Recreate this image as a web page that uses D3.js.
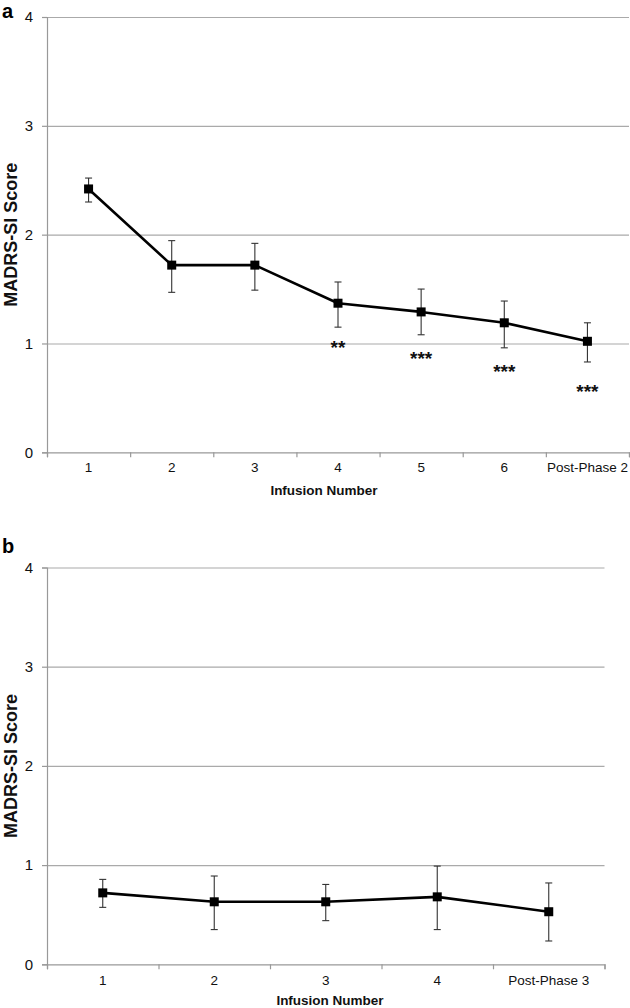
<!DOCTYPE html>
<html>
<head>
<meta charset="utf-8">
<script src="https://cdn.jsdelivr.net/npm/d3@7"></script>
<style>
  html, body { margin: 0; padding: 0; background: #fff; }
  svg { display: block; font-family: "Liberation Sans", Arial, sans-serif; }
</style>
</head>
<body>
<svg id="chart" width="630" height="1008"></svg>
<script>
// ---------- Data ----------
const yTicks = [0, 1, 2, 3, 4];

// Panel a
const categoriesA = ["1", "2", "3", "4", "5", "6", "Post-Phase 2"];
const meansA      = [2.42, 1.72, 1.72, 1.37, 1.29, 1.19, 1.02];
const upperA      = [2.52, 1.945, 1.92, 1.565, 1.50, 1.39, 1.19];
const lowerA      = [2.30, 1.47, 1.49, 1.15, 1.08, 0.96, 0.83];
const starsA      = ["", "", "", "**", "***", "***", "***"];
const starValueA  = [null, null, null, 0.90, 0.80, 0.68, 0.50];

// Panel b
const categoriesB = ["1", "2", "3", "4", "Post-Phase 3"];
const meansB      = [0.72, 0.63, 0.63, 0.68, 0.53];
const upperB      = [0.856, 0.89, 0.805, 0.99, 0.82];
const lowerB      = [0.574, 0.35, 0.44, 0.35, 0.235];

const yTitle = "MADRS-SI Score";
const xTitle = "Infusion Number";

// ---------- Drawing ----------
const svg = d3.select("#chart");

function panel(cfg) {
  const g = svg.append("g");
  const x = d3.scaleBand().domain(cfg.categories).range([cfg.left, cfg.right]).padding(0);
  const y = d3.scaleLinear().domain([0, 4]).range([cfg.bottom, cfg.top]);

  // gridlines
  const grid = g.append("g")
    .attr("transform", `translate(${cfg.left},0)`)
    .call(d3.axisLeft(y).tickValues(yTicks.filter(v => v > 0)).tickSize(-(cfg.right - cfg.left)).tickFormat(""));
  grid.select(".domain").remove();
  grid.selectAll("line").attr("stroke", "#aaaaaa").attr("stroke-width", 1.2);

  // y axis
  const ya = g.append("g")
    .attr("transform", `translate(${cfg.left},0)`)
    .call(d3.axisLeft(y).tickValues(yTicks).tickSize(5).tickPadding(9).tickFormat(d3.format("d")));
  ya.select(".domain").attr("stroke", "#999999").attr("stroke-width", 1.2);
  ya.selectAll("line").attr("stroke", "#999999").attr("stroke-width", 1.2);
  ya.selectAll("text").attr("font-size", 15).attr("fill", "#111")
    .attr("font-family", "'Liberation Sans', Arial, sans-serif");

  // x axis: boundary ticks
  const n = cfg.categories.length;
  const xb = d3.scaleLinear().domain([0, n]).range([cfg.left, cfg.right]);
  const xa = g.append("g")
    .attr("transform", `translate(0,${cfg.bottom})`)
    .call(d3.axisBottom(xb).tickValues(d3.range(0, n + 1)).tickSize(5).tickFormat(""));
  xa.select(".domain").attr("stroke", "#999999").attr("stroke-width", 1.2);
  xa.selectAll("line").attr("stroke", "#999999").attr("stroke-width", 1.2);

  // x category labels
  const xl = g.append("g")
    .attr("transform", `translate(0,${cfg.bottom})`)
    .call(d3.axisBottom(x).tickSize(0).tickPadding(cfg.labelPad));
  xl.select(".domain").remove();
  xl.selectAll("text").attr("font-size", 13.5).attr("fill", "#111")
    .attr("font-family", "'Liberation Sans', Arial, sans-serif");

  const cx = d => x(d) + x.bandwidth() / 2;
  const pts = cfg.categories.map((c, i) => ({ c, m: cfg.means[i], hi: cfg.upper[i], lo: cfg.lower[i] }));

  // error bars
  const eb = g.append("g").attr("stroke", "#333").attr("stroke-width", 1.1);
  eb.selectAll(".v").data(pts).join("line")
    .attr("x1", d => cx(d.c)).attr("x2", d => cx(d.c))
    .attr("y1", d => y(d.hi)).attr("y2", d => y(d.lo));
  eb.selectAll(".t").data(pts).join("line")
    .attr("x1", d => cx(d.c) - 3.5).attr("x2", d => cx(d.c) + 3.5)
    .attr("y1", d => y(d.hi)).attr("y2", d => y(d.hi));
  eb.selectAll(".b").data(pts).join("line")
    .attr("x1", d => cx(d.c) - 3.5).attr("x2", d => cx(d.c) + 3.5)
    .attr("y1", d => y(d.lo)).attr("y2", d => y(d.lo));

  // line
  g.append("path").datum(pts)
    .attr("fill", "none").attr("stroke", "#000").attr("stroke-width", 2.6)
    .attr("stroke-linejoin", "round")
    .attr("d", d3.line().x(d => cx(d.c)).y(d => y(d.m)));

  // markers
  g.selectAll(".mk").data(pts).join("rect")
    .attr("x", d => cx(d.c) - 4.5).attr("y", d => y(d.m) - 4.5)
    .attr("width", 9).attr("height", 9).attr("fill", "#000");

  // significance stars
  if (cfg.stars) {
    const st = cfg.categories.map((c, i) => ({ c, s: cfg.stars[i], v: cfg.starValue[i] })).filter(d => d.s);
    g.selectAll(".st").data(st).join("text")
      .attr("x", d => cx(d.c)).attr("y", d => y(d.v))
      .attr("text-anchor", "middle")
      .attr("font-size", 19).attr("font-weight", "bold").attr("fill", "#111")
      .text(d => d.s);
  }

  // axis titles
  g.append("text")
    .attr("transform", `translate(${cfg.yTitleX},${(cfg.top + cfg.bottom) / 2}) rotate(-90)`)
    .attr("text-anchor", "middle").attr("dominant-baseline", "middle")
    .attr("font-size", 18).attr("font-weight", "bold").attr("fill", "#111")
    .text(yTitle);
  g.append("text")
    .attr("x", cfg.xTitleX).attr("y", cfg.xTitleY)
    .attr("text-anchor", "middle").attr("dominant-baseline", "middle")
    .attr("font-size", 13.5).attr("font-weight", "bold").attr("fill", "#111")
    .text(xTitle);

  // panel letter
  g.append("text")
    .attr("x", cfg.letterX).attr("y", cfg.letterY)
    .attr("font-size", 20).attr("font-weight", "bold").attr("fill", "#000")
    .text(cfg.letter);
}

panel({
  categories: categoriesA, means: meansA, upper: upperA, lower: lowerA,
  stars: starsA, starValue: starValueA,
  left: 47, right: 629, top: 17, bottom: 452.3,
  labelPad: 10, yTitleX: 12, xTitleX: 324, xTitleY: 491,
  letter: "a", letterX: 2, letterY: 18
});

panel({
  categories: categoriesB, means: meansB, upper: upperB, lower: lowerB,
  left: 47, right: 604.5, top: 567.5, bottom: 964.3,
  labelPad: 11, yTitleX: 12, xTitleX: 330, xTitleY: 1001,
  letter: "b", letterX: 2, letterY: 553
});
</script>
</body>
</html>
